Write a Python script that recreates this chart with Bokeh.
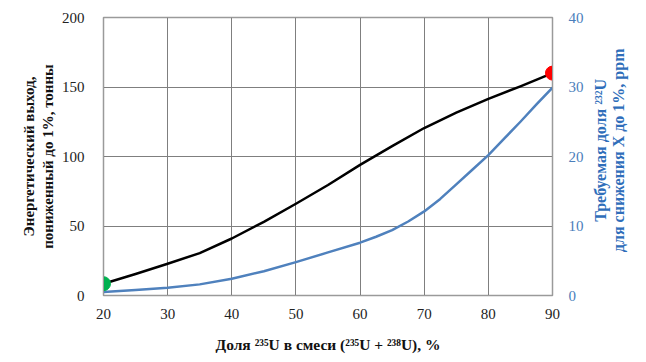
import math
from bokeh.plotting import figure
from bokeh.models import Range1d, LinearAxis, FixedTicker, Label
from bokeh.layouts import row
from bokeh.embed import file_html
from bokeh.resources import INLINE

# data
enrichment = [20, 25, 30, 35, 40, 45, 50, 55, 60, 65, 70, 75, 80, 85, 90]
energy_yield = [8.5, 15.5, 22.8, 30.5, 41.0, 53.0, 66.0, 79.5, 94.0, 107.5, 120.5, 131.5, 141.5, 150.5, 160.0]
u232_enrichment = [20, 25, 30, 35, 40, 45, 50, 55, 60, 62.5, 65, 67.5, 70, 72.5, 75, 77.5, 80, 82.5, 85, 87.5, 90]
u232_fraction = [0.5, 0.8, 1.1, 1.6, 2.4, 3.5, 4.8, 6.2, 7.6, 8.45, 9.4, 10.65, 12.1, 13.9, 16.0, 18.1, 20.2, 22.6, 25.0, 27.5, 29.9]
start_point = ([20], [8.5])
end_point = ([90], [160.0])
x_ticks = [20, 30, 40, 50, 60, 70, 80, 90]
left_ticks = [0, 50, 100, 150, 200]
right_ticks = [0, 10, 20, 30, 40]
right_title = ["Требуемая доля ²³²U", "для снижения Х до 1%, ppm"]

FONT = "Liberation Serif"
BLUE_TXT = "#2F6EBA"
BLUE_LINE = "#4F81BD"

p = figure(width=590, height=362, output_backend="svg", toolbar_location=None,
           x_range=Range1d(20, 90), y_range=Range1d(0, 200),
           min_border_left=103, min_border_right=38, min_border_top=17, min_border_bottom=67)
p.extra_y_ranges = {"right": Range1d(0, 40)}

p.outline_line_color = "#9a9a9a"
p.outline_line_width = 1.5

for ax in (p.xaxis[0], p.yaxis[0]):
    ax.major_tick_line_color = None
    ax.minor_tick_line_color = None
    ax.axis_line_color = "#9a9a9a"
    ax.major_label_text_font = FONT
    ax.major_label_text_font_size = "15px"
    ax.major_label_text_color = "#222222"
    ax.axis_label_text_font = FONT
    ax.axis_label_text_font_size = "15px"
    ax.axis_label_text_font_style = "bold"
    ax.axis_label_text_color = "#111111"

p.xaxis.ticker = FixedTicker(ticks=x_ticks)
p.yaxis.ticker = FixedTicker(ticks=left_ticks)
p.xaxis.major_label_standoff = 7
p.yaxis.major_label_standoff = 13
p.xaxis.axis_label = "Доля ²³⁵U в смеси (²³⁵U + ²³⁸U), %"
p.xaxis.axis_label_text_font_size = "15.5px"
p.xaxis.axis_label_standoff = 14
p.yaxis.axis_label = "Энергетический выход,\nпониженный до 1%, тонны"
p.yaxis.axis_label_standoff = 3

ra = LinearAxis(y_range_name="right", ticker=FixedTicker(ticks=right_ticks))
ra.major_tick_line_color = None
ra.minor_tick_line_color = None
ra.axis_line_color = "#9a9a9a"
ra.major_label_text_font = FONT
ra.major_label_text_font_size = "15px"
ra.major_label_text_color = "#4A7EBB"
ra.major_label_standoff = 10
p.add_layout(ra, "right")

p.xgrid.ticker = FixedTicker(ticks=x_ticks)
p.ygrid.ticker = FixedTicker(ticks=left_ticks)
p.grid.grid_line_color = "#7f7f7f"
p.grid.grid_line_width = 1

p.line(u232_enrichment, u232_fraction, y_range_name="right", line_color=BLUE_LINE,
       line_width=2.5, line_join="round")
p.line(enrichment, energy_yield, line_color="black", line_width=2.5, line_join="round")
p.scatter(*start_point, size=14, fill_color="#00B050", line_color="#00B050")
p.scatter(*end_point, size=14, fill_color="#FF0000", line_color="#FF0000")

# side strip holding the right-hand axis title (two lines reading upward)
t = figure(width=56, height=362, output_backend="svg", toolbar_location=None,
           x_range=Range1d(0, 56), y_range=Range1d(0, 362),
           x_axis_type=None, y_axis_type=None, min_border=0)
t.outline_line_color = None
t.grid.visible = False
for i, line in enumerate(right_title):
    t.add_layout(Label(x=10 + 18 * i, y=189, text=line, angle=math.pi / 2,
                       text_align="center", text_baseline="middle",
                       text_font=FONT, text_font_size="16px",
                       text_font_style="bold", text_color=BLUE_TXT))

layout = row(p, t, spacing=0)
open("out.html", "w").write(file_html(layout, INLINE))
